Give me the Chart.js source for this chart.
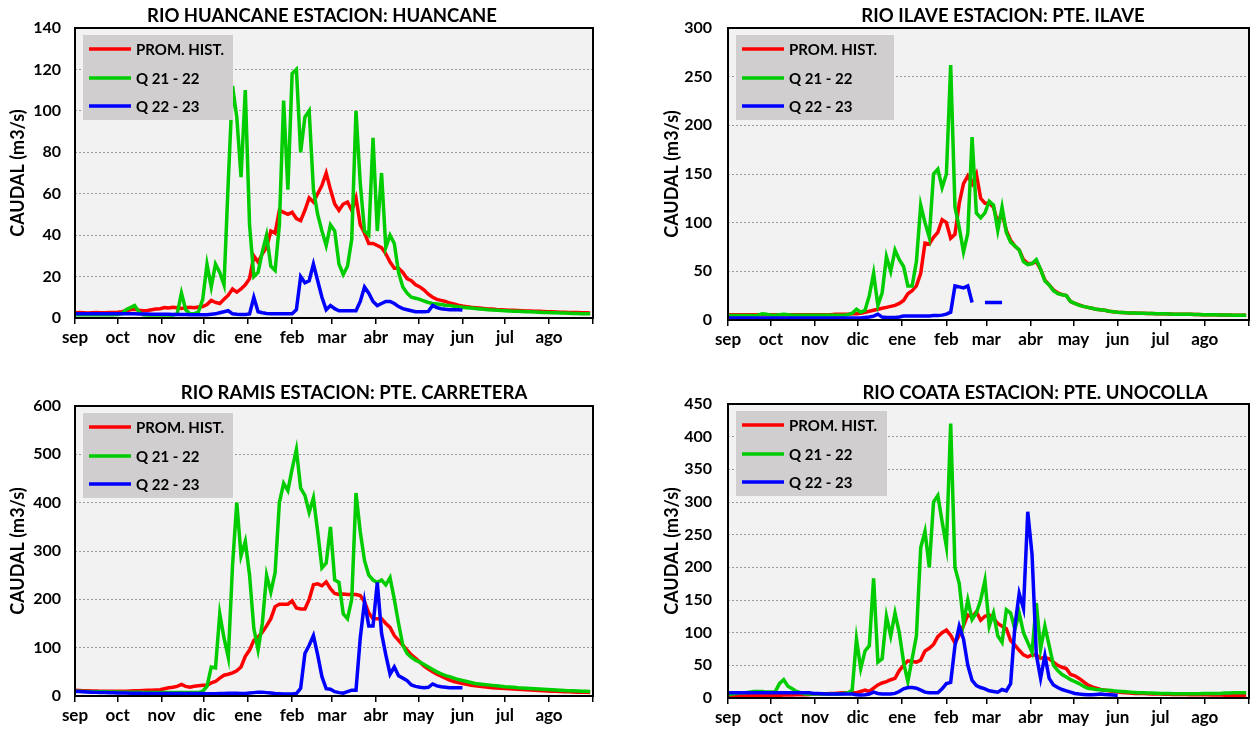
<!DOCTYPE html>
<html>
<head>
<meta charset="utf-8">
<script src="https://cdn.jsdelivr.net/npm/chart.js@4.4.1/dist/chart.umd.min.js"></script>
<style>
    body { margin: 0; background: #fff; width: 1252px; height: 733px; overflow: hidden; }
    .box { position: absolute; }
</style>
</head>
<body>
<div class="box" style="left:0;top:0;width:600px;height:365px"><canvas id="huancane"></canvas></div>
<div class="box" style="left:650px;top:0;width:602px;height:365px"><canvas id="ilave"></canvas></div>
<div class="box" style="left:0;top:375px;width:600px;height:358px"><canvas id="ramis"></canvas></div>
<div class="box" style="left:650px;top:375px;width:602px;height:358px"><canvas id="coata"></canvas></div>
<script>
    // dias desde el 1 de septiembre, un valor cada 3 dias
    const STEP = 3;
    const monthDays = [0, 30, 61, 91, 122, 153, 181, 212, 242, 273, 303, 334, 365];
    const monthLabels = ["sep", "oct", "nov", "dic", "ene", "feb", "mar", "abr", "may", "jun", "jul", "ago", ""];
    const seriesNames = ["PROM. HIST.", "Q 21 - 22", "Q 22 - 23"];
    const seriesColors = ["#ff0000", "#00cc00", "#0000ff"];

    // RIO HUANCANE
    const huProm = [
        2.5, 2.6, 2.5, 2.4, 2.5, 2.6, 2.5, 2.5, 2.6, 2.7,
        2.8, 3, 3.5, 4, 4.2, 3.8, 3.5, 3.6, 4, 4.3,
        4.5, 5, 4.8, 5.2, 5, 4.6, 5, 5.2, 5, 5.3,
        5.5, 6.5, 8.5, 7.5, 7, 9, 11, 14, 12.5, 14,
        16, 19, 30, 27, 31, 34, 42, 41, 52, 51,
        50, 51, 48, 47, 52, 58, 56, 60, 64, 70,
        62, 55, 52, 55, 56, 52, 58, 45, 41, 36,
        36, 35, 34, 31, 27, 24, 24, 22, 19, 18,
        16, 15, 13.5, 11.5, 10, 9, 8.5, 8, 7.2, 6.8,
        6.2, 5.8, 5.5, 5.2, 5, 4.8, 4.6, 4.4, 4.3, 4.1,
        4, 3.9, 3.8, 3.7, 3.6, 3.5, 3.4, 3.4, 3.3, 3.2,
        3.1, 3, 3, 2.9, 2.8, 2.8, 2.7, 2.6, 2.6, 2.5,
        2.5, 2.4
    ];
    const hu2122 = [
        1.6, 1.6, 1.7, 1.6, 1.6, 1.7, 1.6, 1.6, 1.7, 1.6,
        1.7, 2, 4, 5, 6, 3, 1.6, 1.5, 1.5, 1.5,
        1.5, 1.5, 1.5, 1.5, 2, 12, 4, 2, 2, 3,
        9, 26, 15, 26, 22, 16, 66, 112, 97, 68,
        110, 45, 20, 22, 32, 40, 25, 23, 45, 105,
        62, 118, 120, 80, 97, 100, 62, 50, 42, 35,
        45, 42, 26, 21, 25, 38, 100, 65, 42, 40,
        87, 42, 70, 34, 40, 36, 22, 15, 12, 10,
        9.5, 9, 8.2, 7.5, 7, 6.8, 6.5, 6.2, 6, 5.7,
        5.4, 5.2, 5, 4.8, 4.6, 4.4, 4.2, 4, 3.9, 3.8,
        3.6, 3.5, 3.4, 3.3, 3.2, 3.1, 3, 3, 2.9, 2.8,
        2.7, 2.6, 2.5, 2.5, 2.4, 2.4, 2.3, 2.2, 2.2, 2.1,
        2, 2
    ];
    const hu2223 = [
        2, 2, 2, 2, 2, 2, 2, 2, 2, 2,
        2, 2, 2, 2, 2, 1.9, 1.9, 1.9, 1.8, 1.8,
        1.8, 1.8, 1.8, 1.7, 1.7, 1.7, 1.7, 1.6, 1.6, 1.6,
        1.6, 1.6, 1.8, 2, 2.5, 3, 3.5, 2, 1.8, 1.7,
        1.7, 2, 10, 3, 2.5, 2.2, 2, 2, 2, 2,
        2, 2, 4, 20, 17, 18, 26, 18, 10, 4,
        6, 4.5, 3.5, 3.5, 3.5, 3.5, 3.5, 8, 15, 12,
        8, 6, 7, 8, 8, 7, 5.5, 4.5, 4, 3.5,
        3, 3, 3, 3.2, 6, 5, 4.5, 4.2, 4, 4,
        4, 3.8
    ];

    // RIO ILAVE
    const ilProm = [
        5.5, 5.5, 5.5, 5.5, 5.5, 5.5, 5.5, 5.5, 5.5, 5.5,
        5.5, 5.5, 5.5, 5.5, 5.5, 5.5, 5.5, 5.5, 5.5, 5.5,
        5.5, 5.5, 5.5, 5.5, 5.5, 6, 6, 6, 6, 6.5,
        6.5, 7, 8, 9, 10, 11, 12, 13, 14, 15,
        17, 20, 27, 30, 35, 48, 79, 78, 85, 90,
        103, 100, 84, 88, 120, 140, 148, 140, 150, 125,
        120, 120, 116, 100, 110, 92, 82, 76, 72, 62,
        58, 58, 60, 52, 41, 36, 31, 28, 26, 25,
        19, 17, 15.5, 14, 13, 12, 11, 10.5, 10, 9,
        8.5, 8, 7.8, 7.5, 7.3, 7.2, 7, 7, 6.8, 6.7,
        6.5, 6.4, 6.3, 6.2, 6, 6, 6, 5.9, 5.8, 5.7,
        5.6, 5.5, 5.5, 5.4, 5.3, 5.2, 5.2, 5.1, 5, 5,
        5, 5
    ];
    const il2122 = [
        4.5, 4.5, 4.5, 4.5, 4.5, 4.5, 4.5, 5, 6.5, 6,
        5, 5, 5.5, 6, 5.5, 5, 5, 5, 5, 5,
        5, 5, 5, 5, 5, 5, 5, 5, 5.5, 7,
        11, 8, 10, 25, 48, 15, 28, 65, 50, 72,
        62, 55, 35, 35, 60, 118, 100, 85, 150, 155,
        136, 150, 262, 116, 95, 70, 89, 188, 110, 105,
        110, 122, 118, 92, 116, 90, 80, 76, 72, 60,
        57, 58, 62, 52, 40, 36, 30, 27, 26, 25,
        19, 17, 15, 14, 13, 12, 11, 10.5, 10, 9,
        8.5, 8, 7.8, 7.5, 7.3, 7.2, 7, 7, 6.8, 6.7,
        6.5, 6.4, 6.3, 6.2, 6, 6, 6, 5.9, 5.8, 5.7,
        5.6, 5.5, 5.5, 5.4, 5.3, 5.2, 5.2, 5.1, 5, 5,
        5, 5
    ];
    const il2223 = [
        2, 2, 2, 2, 2, 2, 2, 2, 2, 2,
        2, 2, 2, 2, 2, 2, 2, 2, 2, 2,
        2, 2, 2, 2, 2, 2, 2, 2, 2, 2,
        2, 2, 2.5, 3, 4, 6, 3, 2.5, 2.5, 2.5,
        3, 4, 4, 4, 4, 4, 4, 4, 4.5, 4.5,
        5, 6, 8, 35, 34, 33, 35, 18, null, null,
        18, 18, 18, 18, 18
    ];

    // RIO RAMIS
    const raProm = [
        12, 11.5, 11, 11, 10.5, 10.5, 10, 10, 10, 10,
        10, 10, 10, 10.5, 11, 11, 11.5, 12, 12, 12.5,
        13, 15, 17, 18, 20, 24, 20, 18, 20, 21,
        22, 22, 27, 30, 37, 43, 45, 48, 52, 60,
        82, 95, 115, 122, 132, 145, 160, 185, 190, 190,
        190, 197, 182, 180, 180, 200, 230, 232, 228, 236,
        222, 212, 210, 211, 210, 210, 210, 208, 195, 172,
        160, 160, 160, 150, 142, 125, 115, 105, 95, 85,
        78, 70, 62, 56, 50, 45, 41, 37, 33, 30,
        28, 26, 24, 22, 21, 20, 19, 18, 17, 16.5,
        16, 15.5, 15, 14.5, 14, 13.5, 13, 12.5, 12, 11.5,
        11, 10.5, 10, 10, 9.5, 9, 9, 8.5, 8, 8,
        7.5, 7
    ];
    const ra2122 = [
        10, 10, 9.5, 9.5, 9, 9, 9, 9, 8.5, 8.5,
        8.5, 8, 8, 8, 8, 8, 7.5, 7.5, 7.5, 7.5,
        7.5, 7.5, 7, 7, 7, 7, 7, 7, 7, 7,
        10, 20, 60, 58, 170, 120, 80, 270, 400, 290,
        320, 250, 140, 95, 150, 250, 215, 255, 400, 440,
        425, 470, 510, 430, 415, 380, 410, 340, 265, 275,
        350, 240, 235, 170, 160, 200, 420, 340, 280, 250,
        240, 235, 240, 230, 245, 200, 150, 105, 88, 80,
        74, 70, 65, 60, 55, 50, 46, 42, 40, 37,
        34, 32, 30, 28, 26, 25, 24, 23, 22, 21,
        20, 19, 18.5, 18, 17, 16.5, 16, 15.5, 15, 14.5,
        14, 13.5, 13, 12.5, 12, 11.5, 11, 11, 10.5, 10,
        10, 9.5
    ];
    const ra2223 = [
        10, 9.5, 9, 8.5, 8, 7.5, 7, 7, 6.5, 6.5,
        6, 6, 6, 5.5, 5.5, 5.5, 5, 5, 5, 5,
        5, 5, 5, 5, 5, 5, 5, 5, 5, 5,
        5, 4.5, 4.5, 4.5, 5, 5, 5.5, 5.5, 5.5, 5,
        5, 6, 7, 8, 8, 7, 6, 5, 4.5, 4,
        4, 4, 5, 16, 88, 105, 125, 85, 40, 15,
        14, 9, 7, 6, 9, 12, 12, 120, 195, 145,
        145, 235, 130, 85, 45, 60, 42, 37, 32, 23,
        20, 18, 17, 18, 25, 21, 19, 18, 17, 17,
        17, 17
    ];

    // RIO COATA
    const coProm = [
        4, 4, 4, 4, 4, 4, 4, 4, 4, 4,
        4, 4, 4, 4.5, 4.5, 4.5, 5, 5, 5, 5.5,
        6, 6, 6, 6.5, 7, 7, 7.5, 8, 8, 8,
        8, 10, 12, 10, 15, 20, 23, 25, 28, 30,
        42, 50, 57, 56, 55, 58, 72, 76, 82, 94,
        100, 104, 96, 84, 96, 111, 127, 124, 132, 119,
        125, 127, 122, 114, 110, 106, 88, 81, 73, 66,
        63, 66, 66, 61, 62, 60, 55, 50, 47, 45,
        36, 34, 30, 25, 20, 17, 15, 13, 12, 11,
        10, 9, 8.5, 8, 7.5, 7, 7, 6.8, 6.5, 6.3,
        6, 6, 5.8, 5.6, 5.5, 5.4, 5.3, 5.2, 5, 5,
        5, 4.8, 4.8, 4.6, 4.5, 4.5, 4.4, 4.3, 4.3, 4.2,
        4.2, 4.2
    ];
    const co2122 = [
        5, 6, 7, 8, 8, 9, 10, 10, 10, 9,
        9, 9, 22, 28, 18, 14, 10, 8, 6, 6,
        6, 6, 6, 6, 6, 6, 6, 7, 8, 12,
        90, 45, 72, 80, 183, 55, 60, 125, 95, 130,
        100, 55, 25, 60, 95, 230, 255, 200, 300, 310,
        270, 232, 420, 200, 175, 115, 150, 120, 130, 150,
        180, 110, 130, 95, 85, 135, 130, 105, 130, 100,
        85, 70, 145, 75, 110, 80, 50, 42, 36, 32,
        28, 25, 22, 18, 15, 14, 13, 12.5, 12, 12,
        11, 10.5, 10, 9.5, 9, 8.5, 8, 8, 7.8, 7.5,
        7.2, 7, 7, 6.8, 6.5, 6.5, 6.5, 6.5, 6.5, 6.5,
        6.5, 7, 7, 6.8, 7, 7, 7.5, 7.5, 8, 8,
        8, 8
    ];
    const co2223 = [
        8, 8, 8, 8, 8, 8, 8, 8, 8, 8,
        8, 8, 8, 8, 8, 8, 8, 8, 8, 8,
        7, 7, 6.5, 6, 6, 6, 6, 6, 6, 6,
        5, 4.5, 5, 6, 9, 7, 6, 6, 6, 7,
        10, 14, 16, 16, 15, 12, 9, 8, 8, 8,
        14, 22, 24, 80, 110, 90, 50, 27, 19, 16,
        14, 11, 10, 9, 13, 11, 22, 110, 160, 137,
        285, 220, 66, 30, 65, 30, 20, 16, 13, 11,
        9, 7, 6, 5.5, 5, 5, 5.5, 6, 5.5, 5,
        4.5, 4
    ];

    const FONT = "Lato, 'Open Sans', sans-serif";

    function toPoints(values) {
        return values.map((v, i) => ({ x: i * STEP, y: v }));
    }

    // fondo gris, marco y leyenda dentro del area
    const panelPlugin = {
        id: "panel",
        beforeDraw(chart, args, opts) {
            const a = chart.chartArea;
            const ctx = chart.ctx;
            ctx.save();
            ctx.fillStyle = "#f2f2f2";
            ctx.fillRect(a.left, a.top, a.right - a.left, a.bottom - a.top);
            ctx.restore();
        },
        afterDatasetsDraw(chart, args, opts) {
            const a = chart.chartArea;
            const ctx = chart.ctx;
            ctx.save();
            // leyenda
            const bx = a.left + 8, by = a.top + 7;
            ctx.fillStyle = "#d0cece";
            ctx.fillRect(bx, by, opts.legendWidth, 85);
            const rows = [14, 43, 71];
            chart.data.datasets.forEach((ds, i) => {
                const y = by + rows[i];
                ctx.strokeStyle = ds.borderColor;
                ctx.lineWidth = 3.5;
                ctx.beginPath();
                ctx.moveTo(bx + 6, y);
                ctx.lineTo(bx + 48, y);
                ctx.stroke();
                ctx.fillStyle = "#000";
                ctx.font = "bold 15px " + FONT;
                ctx.textBaseline = "middle";
                ctx.textAlign = "left";
                ctx.fillText(ds.label, bx + 53, y + 1);
            });
            // marco
            ctx.strokeStyle = "#000";
            ctx.lineWidth = 2;
            ctx.strokeRect(a.left, a.top, a.right - a.left, a.bottom - a.top);
            // titulo
            ctx.font = "bold 18.5px " + FONT;
            ctx.textAlign = "center";
            ctx.textBaseline = "middle";
            ctx.fillStyle = "#000";
            ctx.fillText(opts.title, opts.titleX, opts.titleY);
            ctx.restore();
        }
    };

    function makeChart(id, cfg) {
        const ctx = document.getElementById(id).getContext("2d");
        const values = [cfg.prom, cfg.q2122, cfg.q2223];
        return new Chart(ctx, {
            type: "line",
            data: {
                datasets: values.map((v, i) => ({
                    label: seriesNames[i],
                    data: toPoints(v),
                    borderColor: seriesColors[i],
                    borderWidth: 3.5,
                    pointRadius: 0,
                    tension: 0,
                    spanGaps: false,
                    order: 3 - i
                }))
            },
            options: {
                responsive: true,
                maintainAspectRatio: false,
                animation: false,
                events: [],
                layout: { padding: { top: cfg.top, right: cfg.right, bottom: 0, left: 0 } },
                plugins: {
                    legend: { display: false },
                    title: { display: false },
                    tooltip: { enabled: false },
                    panel: { title: cfg.title, titleX: cfg.titleX, titleY: cfg.titleY, legendWidth: cfg.legendWidth }
                },
                scales: {
                    x: {
                        type: "linear",
                        min: 0,
                        max: 365,
                        afterBuildTicks: s => { s.ticks = monthDays.map(d => ({ value: d })); },
                        afterFit: s => { s.height = cfg.xHeight; },
                        ticks: {
                            autoSkip: false,
                            maxRotation: 0,
                            padding: 3,
                            color: "#000",
                            font: { family: FONT, size: 17, weight: "bold" },
                            callback: (v) => monthLabels[monthDays.indexOf(v)]
                        },
                        grid: { drawOnChartArea: false, drawTicks: true, tickLength: 6, color: "#000", lineWidth: 1.5 },
                        border: { display: false }
                    },
                    y: {
                        min: 0,
                        max: cfg.yMax,
                        afterFit: s => { s.width = cfg.left; },
                        ticks: {
                            stepSize: cfg.yStep,
                            padding: cfg.tickPad,
                            color: "#000",
                            font: { family: FONT, size: 16, weight: "bold" }
                        },
                        grid: { drawTicks: false, color: "#9a9a9a", lineWidth: 1 },
                        border: { display: false, dash: [2, 2] },
                        title: {
                            display: true,
                            text: "CAUDAL (m3/s)",
                            color: "#000",
                            font: { family: FONT, size: 18, weight: "bold" },
                            padding: { top: cfg.titlePad, bottom: 0 }
                        }
                    }
                }
            },
            plugins: [panelPlugin]
        });
    }

    makeChart("huancane", {
        prom: huProm, q2122: hu2122, q2223: hu2223,
        title: "RIO HUANCANE ESTACION: HUANCANE", titleX: 322, titleY: 16,
        yMax: 140, yStep: 20, left: 75, right: 7, top: 28, xHeight: 47,
        tickPad: 14, titlePad: 7, legendWidth: 150
    });
    makeChart("ilave", {
        prom: ilProm, q2122: il2122, q2223: il2223,
        title: "RIO ILAVE ESTACION: PTE. ILAVE", titleX: 353, titleY: 16,
        yMax: 300, yStep: 50, left: 78, right: 2, top: 28, xHeight: 45,
        tickPad: 16, titlePad: 11, legendWidth: 158
    });
    makeChart("ramis", {
        prom: raProm, q2122: ra2122, q2223: ra2223,
        title: "RIO RAMIS ESTACION: PTE. CARRETERA", titleX: 354, titleY: 18,
        yMax: 600, yStep: 100, left: 75, right: 7, top: 31, xHeight: 37,
        tickPad: 14, titlePad: 7, legendWidth: 150
    });
    makeChart("coata", {
        prom: coProm, q2122: co2122, q2223: co2223,
        title: "RIO COATA ESTACION: PTE. UNOCOLLA", titleX: 385, titleY: 18,
        yMax: 450, yStep: 50, left: 78, right: 2, top: 29, xHeight: 35,
        tickPad: 16, titlePad: 11, legendWidth: 151
    });
</script>
</body>
</html>
